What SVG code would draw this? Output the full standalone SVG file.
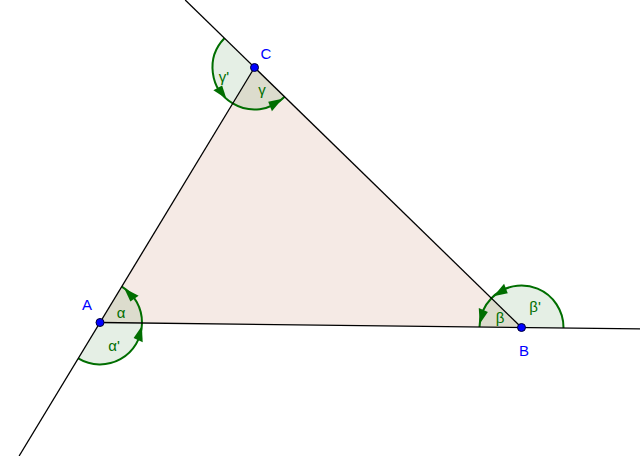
<svg xmlns="http://www.w3.org/2000/svg" width="640" height="456" viewBox="0 0 640 456">
<style>
.line{stroke:#000;stroke-width:1.3;fill:none}
.sec{fill:rgb(0,100,0);fill-opacity:0.1;stroke:none}
.arc{fill:none;stroke:rgb(0,110,0);stroke-width:2}
.arr{fill:rgb(0,110,0);stroke:none}
.al{font-family:"Liberation Sans",Arial,sans-serif;font-size:15px;fill:rgb(0,110,0);text-anchor:middle}
.pl{font-family:"Liberation Sans",Arial,sans-serif;font-size:15px;fill:#0000ff;text-anchor:middle}
.pt{fill:#0000ff;stroke:#000033;stroke-width:1}
</style>
<rect width="640" height="456" fill="#fff"/>
<g id="triangle">
<polygon points="100,322.5 521.5,327.5 254.5,67.5" fill="rgb(153,51,0)" fill-opacity="0.1" stroke="none"/>
</g>
<g id="angle-alpha">
<path class="sec" d="M100,322.5 L142,323 A42,42 0 0 0 121.76,286.58 Z"/>
<path class="arc" d="M142,323 A42,42 0 0 0 121.76,286.58"/>
<polygon class="arr" points="124.21,288.18 138.6,295.68 130.38,301.38"/>
<text class="al" x="121" y="318">α</text>
</g>
<g id="angle-alpha-prime">
<path class="sec" d="M100,322.5 L78.24,358.42 A42,42 0 0 0 142,323 Z"/>
<path class="arc" d="M78.24,358.42 A42,42 0 0 0 142,323"/>
<polygon class="arr" points="141.86,325.93 142.71,342.13 133.63,337.95"/>
<text class="al" x="114" y="351">α'</text>
</g>
<g id="angle-beta">
<path class="sec" d="M521.5,327.5 L491.41,298.2 A42,42 0 0 0 479.5,327 Z"/>
<path class="arc" d="M491.41,298.2 A42,42 0 0 0 479.5,327"/>
<polygon class="arr" points="479.64,324.07 478.79,307.88 487.87,312.06"/>
<text class="al" x="500" y="323">β</text>
</g>
<g id="angle-beta-prime">
<path class="sec" d="M521.5,327.5 L563.5,328 A42,42 0 0 0 491.41,298.2 Z"/>
<path class="arc" d="M563.5,328 A42,42 0 0 0 491.41,298.2"/>
<polygon class="arr" points="493.51,296.19 504.08,283.85 507.78,293.13"/>
<text class="al" x="535" y="312">β'</text>
</g>
<g id="angle-gamma">
<path class="sec" d="M254.5,67.5 L232.74,103.42 A42,42 0 0 0 284.59,96.8 Z"/>
<path class="arc" d="M232.74,103.42 A42,42 0 0 0 284.59,96.8"/>
<polygon class="arr" points="282.46,98.84 271.92,111.15 268.22,101.87"/>
<text class="al" x="262" y="95">γ</text>
</g>
<g id="angle-gamma-prime">
<path class="sec" d="M254.5,67.5 L224.41,38.2 A42,42 0 0 0 232.74,103.42 Z"/>
<path class="arc" d="M224.41,38.2 A42,42 0 0 0 232.74,103.42"/>
<polygon class="arr" points="226.4,98.71 213.4,90.28 222.14,85.44"/>
<text class="al" x="224" y="82">γ'</text>
</g>
<g id="connectors">
<line class="line" x1="100" y1="322.5" x2="640" y2="328.9"/>
<line class="line" x1="521.5" y1="327.5" x2="185.2" y2="0"/>
<line class="line" x1="254.5" y1="67.5" x2="19.1" y2="456"/>
</g>
<g id="point-A">
<circle class="pt" cx="100" cy="322.5" r="4"/>
<text class="pl" x="87" y="310">A</text>
</g>
<g id="point-B">
<circle class="pt" cx="521.5" cy="327.5" r="4"/>
<text class="pl" x="524" y="356">B</text>
</g>
<g id="point-C">
<circle class="pt" cx="254.5" cy="67.5" r="4"/>
<text class="pl" x="266" y="59">C</text>
</g>
</svg>
